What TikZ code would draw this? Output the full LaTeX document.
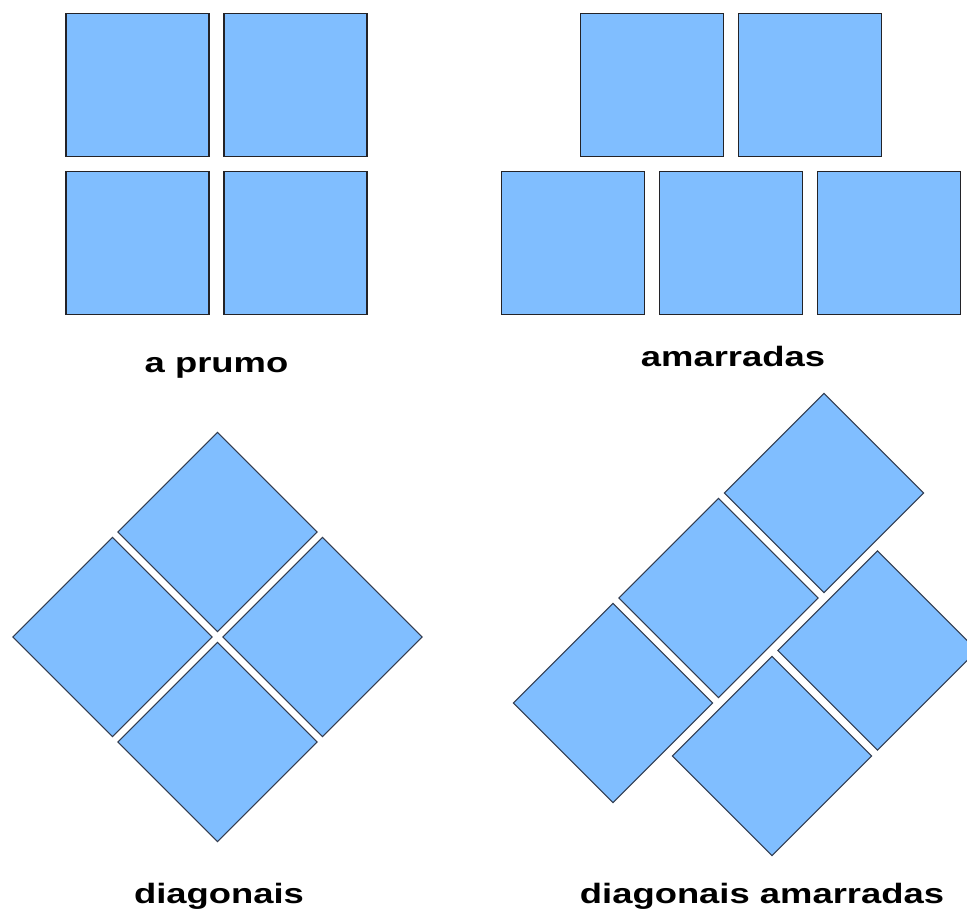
\documentclass[tikz,border=0pt]{standalone}
\usepackage{fontspec}
\newfontfamily\labelfont{Liberation Sans}
\definecolor{tileblue}{RGB}{128,190,255}
\definecolor{tileedge}{RGB}{35,35,40}
\definecolor{diagedge}{RGB}{50,60,80}
\usetikzlibrary{positioning}

\begin{document}
\begin{tikzpicture}[x=1pt, y=-1pt,
  tile/.style={draw=tileedge, line width=1.8pt, fill=tileblue, minimum size=143pt, inner sep=0pt},
  dtile/.style={draw=diagedge, line width=1.1pt, fill=tileblue, minimum size=141pt, inner sep=0pt, rotate=45},
  caption/.style={font=\labelfont\bfseries\fontsize{28}{30}\selectfont, anchor=base, inner sep=0pt, xscale=1.3}]

\useasboundingbox (0,0) rectangle (967,912);
\clip (0,0) rectangle (967,912);

% --- a prumo ---
\node[tile] (ap-a) at (137.5,85) {};
\node[tile] (ap-b) at (295.5,85) {};
\node[tile] (ap-c) at (137.5,243) {};
\node[tile] (ap-d) at (295.5,243) {};
\node[caption] (ap-label) at (216.5,372) {a prumo};

% --- amarradas ---
\node[tile] (am-a) at (652,85) {};
\node[tile] (am-b) at (810,85) {};
\node[tile] (am-c) at (573,243) {};
\node[tile] (am-d) at (731,243) {};
\node[tile] (am-e) at (889,243) {};
\node[caption] (am-label) at (733,366) {amarradas};

% --- diagonais ---
\node[dtile] (dg-top) at (217.5,532) {};
\node[dtile] (dg-left) at (112.5,637) {};
\node[dtile] (dg-right) at (322.5,637) {};
\node[dtile] (dg-bot) at (217.5,742) {};
\node[caption] (dg-label) at (219,903) {diagonais};

% --- diagonais amarradas ---
\node[dtile] (da-a) at (824,493) {};
\node[dtile] (da-b) at (718.5,598) {};
\node[dtile] (da-c) at (613,703) {};
\node[dtile] (da-d) at (877.5,650.5) {};
\node[dtile] (da-e) at (772,756) {};
\node[caption] (da-label) at (762,903) {diagonais amarradas};

\end{tikzpicture}
\end{document}
